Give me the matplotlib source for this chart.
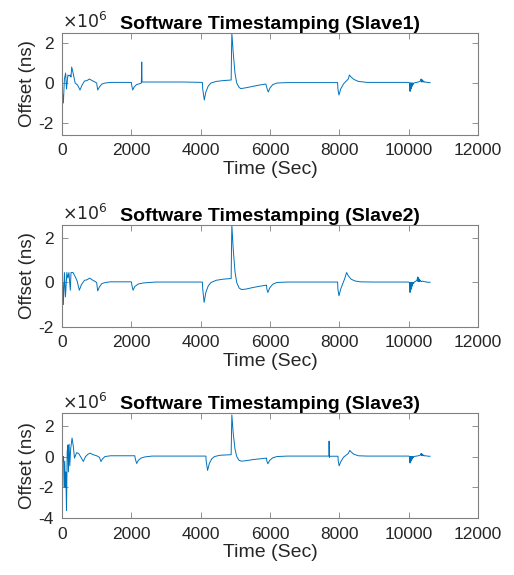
import numpy as np
import matplotlib.pyplot as plt

plt.rcParams['font.family'] = ['Liberation Sans', 'DejaVu Sans']
plt.rcParams['axes.unicode_minus'] = False

# Offsets, in units of 1e6 ns
time_slave1 = [0, 8, 15, 40, 70, 105, 130, 170, 200, 240, 260, 280, 320, 380, 450, 520, 580,
               650, 720, 790, 870, 950, 1000, 1030, 1080, 1150, 1250, 1400, 1700, 2000, 2010,
               2040, 2080, 2150, 2250, 2290, 2300, 2310, 2500, 3000, 3500, 4050, 4060, 4105,
               4150, 4220, 4300, 4450, 4650, 4880, 4890, 4900, 4940, 4990, 5040, 5110, 5160,
               5300, 5500, 5700, 5880, 5920, 5950, 6000, 6080, 6200, 6500, 7000, 7500, 7950,
               7960, 7990, 8040, 8120, 8200, 8260, 8290, 8340, 8420, 8550, 8800, 9200, 9600,
               10000, 10030, 10040, 10048, 10056, 10064, 10072, 10080, 10090, 10100, 10110,
               10120, 10135, 10150, 10200, 10280, 10340, 10360, 10368, 10376, 10384, 10392,
               10400, 10410, 10420, 10440, 10460, 10500, 10560, 10620]
offset_slave1 = [0.0, -2.6, -0.5, -1.0, 0.2, 0.5, -0.3, 0.4, 0.35, 0.4, 0.3, 0.8, 0.5, 0.0,
                 -0.1, -0.35, -0.1, 0.1, 0.12, 0.2, 0.12, 0.05, 0.0, -0.35, -0.2, -0.05, 0.0,
                 0.03, 0.03, 0.03, -0.1, -0.35, -0.2, -0.08, -0.03, 0.0, 1.05, 0.05, 0.05,
                 0.05, 0.05, 0.03, -0.3, -0.85, -0.45, -0.15, 0.0, 0.08, 0.12, 0.15, 1.5, 2.5,
                 1.5, 0.5, 0.0, -0.22, -0.28, -0.24, -0.17, -0.1, -0.05, -0.3, -0.45, -0.25,
                 -0.08, 0.0, 0.02, 0.02, 0.02, 0.02, -0.3, -0.6, -0.3, -0.05, 0.1, 0.2, 0.4,
                 0.3, 0.18, 0.08, 0.03, 0.03, 0.03, 0.03, 0.0, -0.42, 0.0, -0.35, 0.0, -0.28,
                 0.0, -0.2, 0.0, -0.13, 0.0, -0.07, 0.0, 0.02, 0.05, 0.1, 0.2, 0.05, 0.18,
                 0.06, 0.15, 0.06, 0.12, 0.05, 0.09, 0.04, 0.05, 0.02, 0.02]

time_slave2 = [0, 8, 20, 40, 70, 100, 140, 170, 200, 240, 260, 320, 400, 440, 500, 560, 650,
               720, 800, 870, 950, 1000, 1030, 1080, 1150, 1250, 1400, 1700, 2000, 2020, 2050,
               2100, 2200, 2350, 2700, 3200, 3700, 4050, 4060, 4100, 4150, 4220, 4300, 4450,
               4650, 4880, 4890, 4900, 4940, 4990, 5040, 5110, 5180, 5300, 5500, 5700, 5900,
               5910, 5940, 5990, 6080, 6200, 6500, 7000, 7500, 7950, 7960, 7990, 8040, 8100,
               8150, 8210, 8260, 8340, 8450, 8600, 9000, 9500, 10000, 10030, 10040, 10048,
               10056, 10064, 10072, 10080, 10090, 10100, 10110, 10125, 10140, 10160, 10200,
               10240, 10260, 10268, 10276, 10284, 10292, 10300, 10310, 10320, 10340, 10360,
               10400, 10480, 10560, 10620]
offset_slave2 = [0.0, -1.6, 0.0, -1.0, 0.45, -0.65, 0.45, 0.2, 0.45, -0.35, 0.45, 0.45, 0.2,
                 0.05, -0.35, -0.1, 0.1, 0.12, 0.2, 0.12, 0.05, 0.0, -0.38, -0.2, -0.05, 0.0,
                 0.03, 0.03, 0.03, -0.15, -0.35, -0.18, -0.07, -0.02, 0.02, 0.02, 0.02, 0.02,
                 -0.3, -0.9, -0.45, -0.15, 0.0, 0.1, 0.15, 0.18, 1.5, 2.6, 1.5, 0.5, 0.0,
                 -0.25, -0.32, -0.3, -0.23, -0.17, -0.12, -0.3, -0.45, -0.25, -0.08, 0.0, 0.02,
                 0.02, 0.02, 0.02, -0.3, -0.6, -0.3, -0.05, 0.15, 0.45, 0.3, 0.15, 0.07, 0.03,
                 0.02, 0.02, 0.02, 0.0, -0.45, 0.0, -0.38, -0.02, -0.3, 0.0, -0.2, 0.0, -0.12,
                 0.0, -0.05, 0.02, 0.05, 0.1, 0.25, 0.05, 0.22, 0.06, 0.18, 0.06, 0.14, 0.05,
                 0.1, 0.04, 0.06, 0.03, 0.01, 0.01]

time_slave3 = [0, 30, 45, 60, 80, 95, 110, 130, 150, 170, 185, 205, 225, 250, 290, 330, 360,
               420, 480, 560, 615, 680, 750, 810, 900, 1000, 1080, 1125, 1170, 1240, 1400,
               2100, 2120, 2155, 2200, 2280, 2400, 2600, 3500, 4150, 4160, 4200, 4250, 4320,
               4400, 4550, 4700, 4880, 4890, 4900, 4940, 4990, 5040, 5110, 5180, 5300, 5500,
               5700, 5900, 5910, 5940, 5990, 6080, 6200, 6500, 7000, 7700, 7705, 7715, 7730,
               7960, 7970, 7995, 8040, 8120, 8200, 8260, 8300, 8340, 8420, 8550, 8800, 9200,
               9600, 10000, 10030, 10040, 10048, 10056, 10064, 10072, 10080, 10090, 10100,
               10110, 10120, 10135, 10150, 10200, 10280, 10340, 10360, 10368, 10376, 10384,
               10392, 10400, 10410, 10420, 10440, 10460, 10500, 10560, 10620]
offset_slave3 = [0.0, -0.3, 0.0, -2.0, -0.3, -2.0, -1.0, -3.5, 0.3, 0.75, -1.0, 0.8, -0.6,
                 0.5, 1.2, 0.6, -0.1, 0.25, 0.2, -0.1, -0.32, 0.0, 0.15, 0.22, 0.12, 0.05,
                 -0.05, -0.32, -0.15, 0.0, 0.05, 0.05, -0.2, -0.45, -0.25, -0.1, -0.02, 0.03,
                 0.03, 0.03, -0.3, -0.9, -0.45, -0.15, 0.0, 0.08, 0.1, 0.12, 1.5, 2.7, 1.5, 0.5,
                 0.0, -0.25, -0.3, -0.27, -0.2, -0.15, -0.1, -0.3, -0.47, -0.25, -0.08, 0.0,
                 0.03, 0.03, 0.03, 1.0, -0.05, 0.02, 0.02, -0.3, -0.6, -0.35, -0.05, 0.1, 0.2,
                 0.4, 0.3, 0.15, 0.05, 0.03, 0.03, 0.03, 0.03, 0.0, -0.42, 0.0, -0.35, 0.0,
                 -0.28, 0.0, -0.2, 0.0, -0.13, 0.0, -0.07, 0.0, 0.02, 0.05, 0.1, 0.2, 0.05,
                 0.18, 0.06, 0.15, 0.06, 0.12, 0.05, 0.09, 0.04, 0.05, 0.02, 0.02]

titles = ['Software Timestamping (Slave1)', 'Software Timestamping (Slave2)',
          'Software Timestamping (Slave3)']
y_limits = [(-2.6, 2.5), (-2.0, 2.6), (-4.0, 2.8)]
y_ticks = [[-2, 0, 2], [-2, 0, 2], [-4, -2, 0, 2]]
x_ticks = [0, 2000, 4000, 6000, 8000, 10000, 12000]

series = [(time_slave1, offset_slave1), (time_slave2, offset_slave2),
          (time_slave3, offset_slave3)]

# axes rectangles taken from the reference layout (pixels -> figure fraction)
positions = [[0.1206, 0.7652, 0.8093, 0.1774],
             [0.1206, 0.4318, 0.8093, 0.1769],
             [0.1206, 0.0986, 0.8093, 0.1826]]

fig = plt.figure(figsize=(5.14, 5.75), dpi=100)
text_color = '#262626'

for i in range(3):
    ax = fig.add_axes(positions[i])
    t, v = series[i]
    ax.plot(t, v, color='#0072BD', linewidth=0.7)
    ax.set_xlim(0, 12000)
    ax.set_ylim(*y_limits[i])
    ax.set_xticks(x_ticks)
    ax.set_yticks(y_ticks[i])
    ax.set_yticklabels([str(k) for k in y_ticks[i]])
    ax.tick_params(direction='in', top=True, right=True, length=4, width=0.6,
                   labelsize=12.5, colors='#808080', labelcolor=text_color, pad=6)
    for sp in ax.spines.values():
        sp.set_color('#808080')
        sp.set_linewidth(0.8)
    ax.set_xlabel('Time (Sec)', fontsize=14, color=text_color, labelpad=2)
    ax.set_ylabel('Offset (ns)', fontsize=13.5, color=text_color, labelpad=2)
    ax.set_title(titles[i], fontsize=14, fontweight='bold', color='black', pad=3)
    ax.text(0.0, 1.015, r'$\times10^{6}$', transform=ax.transAxes, fontsize=12.5,
            color=text_color, ha='left', va='bottom')

fig.savefig('out.png', dpi=100)
